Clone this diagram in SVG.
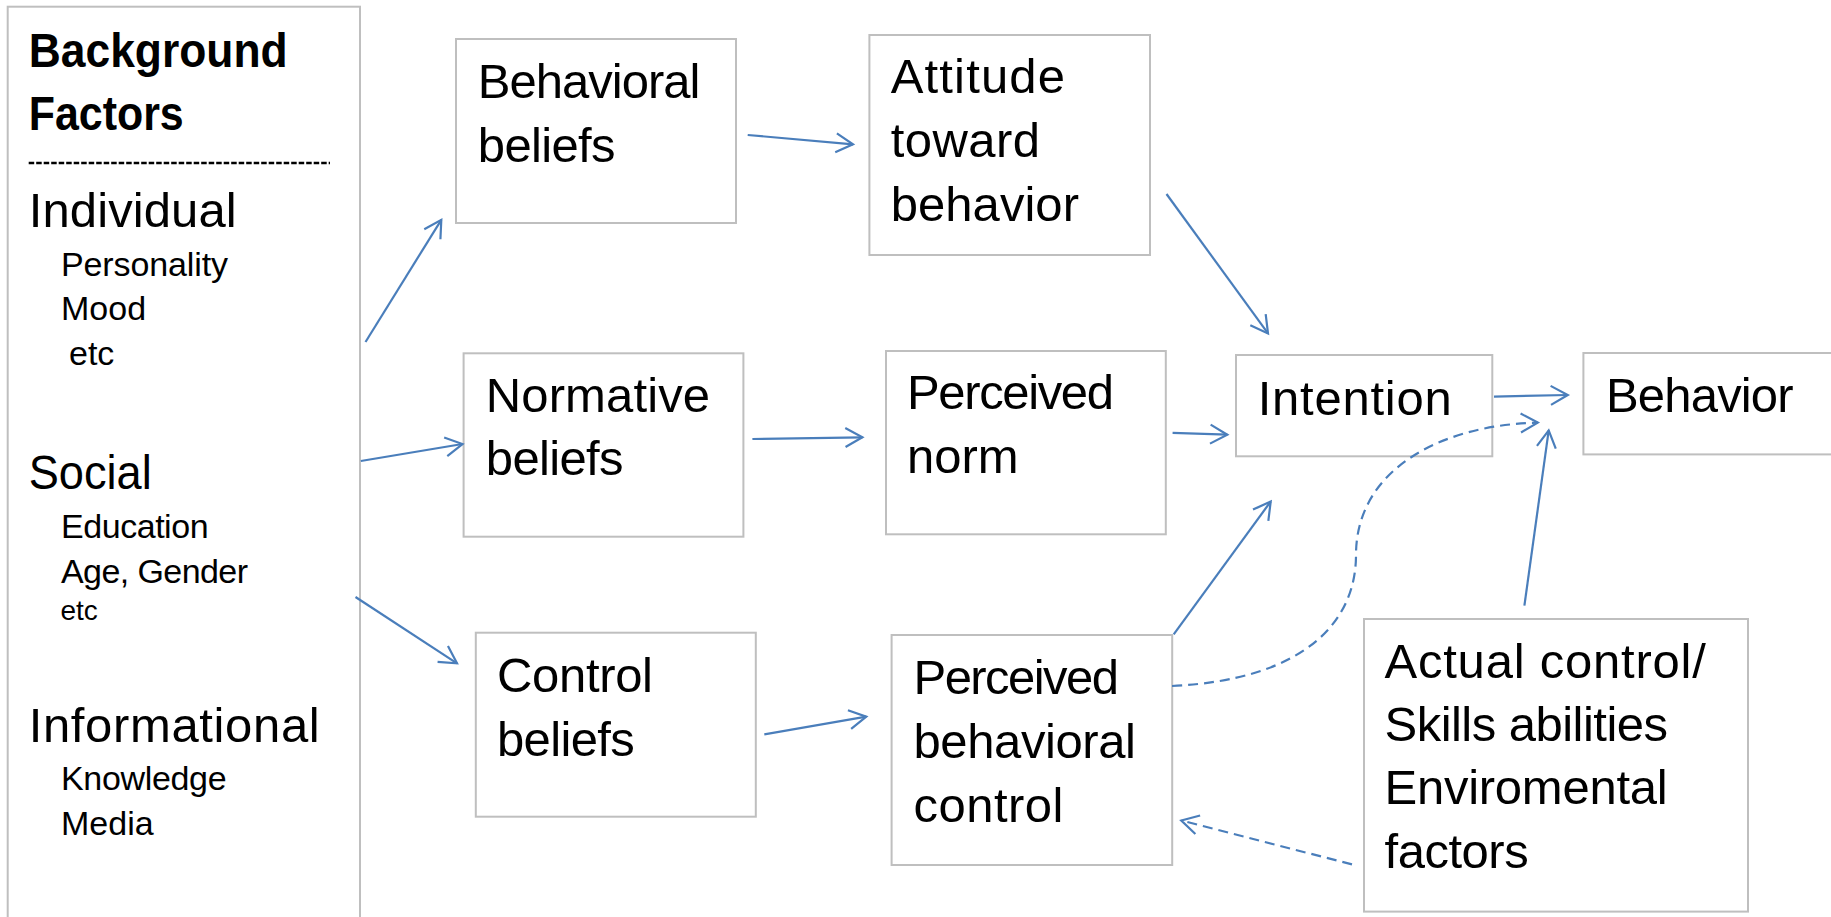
<svg xmlns="http://www.w3.org/2000/svg" width="1831" height="917" viewBox="0 0 1831 917">
<style>
.box{fill:#ffffff;stroke:#bfbfbf;stroke-width:2}
.t{font-family:"Liberation Sans",Arial,sans-serif;font-size:49px;fill:#000}
.h{font-family:"Liberation Sans",Arial,sans-serif;font-size:48px;font-weight:bold;fill:#000}
.s{font-family:"Liberation Sans",Arial,sans-serif;font-size:34px;fill:#000}
.xs{font-family:"Liberation Sans",Arial,sans-serif;font-size:28px;fill:#000}
.c{fill:none;stroke:#4a7ebb;stroke-width:2.2;marker-end:url(#ah)}
.d{stroke-dasharray:10 6}
</style>
<defs>
<marker id="ah" markerUnits="userSpaceOnUse" viewBox="-22 -12 26 24" refX="0" refY="0" markerWidth="26" markerHeight="24" orient="auto" overflow="visible">
<path d="M-17,-9.5 L0,0 L-17,9.5" fill="none" stroke="#4a7ebb" stroke-width="2.2" stroke-linejoin="miter"/>
</marker>
</defs>
<rect width="1831" height="917" fill="#ffffff"/>

<g id="background-factors">
<rect class="box" x="7.7" y="6.7" width="352.3" height="930"/>
<text class="h" x="28.7" y="66.7" textLength="259" lengthAdjust="spacingAndGlyphs">Background</text>
<text class="h" x="28.7" y="130" textLength="155" lengthAdjust="spacingAndGlyphs">Factors</text>
<line x1="28.7" y1="163" x2="330" y2="163" stroke="#000" stroke-width="2.6" stroke-dasharray="5.5 2"/>
<text class="t" x="28.7" y="227" textLength="208" lengthAdjust="spacing">Individual</text>
<text class="s" x="61" y="276" textLength="167" lengthAdjust="spacing">Personality</text>
<text class="s" x="61" y="320">Mood</text>
<text class="s" x="69" y="365">etc</text>
<text class="t" x="28.7" y="489" textLength="123" lengthAdjust="spacingAndGlyphs">Social</text>
<text class="s" x="61" y="538" textLength="147.6" lengthAdjust="spacing">Education</text>
<text class="s" x="61" y="583" textLength="187" lengthAdjust="spacing">Age, Gender</text>
<text class="xs" x="60.5" y="620">etc</text>
<text class="t" x="28.7" y="742" textLength="291" lengthAdjust="spacing">Informational</text>
<text class="s" x="61" y="790" textLength="165.6" lengthAdjust="spacing">Knowledge</text>
<text class="s" x="61" y="835">Media</text>
</g>

<g id="behavioral-beliefs">
<rect class="box" x="456" y="39" width="280" height="184"/>
<text class="t" x="477.8" y="98" textLength="222.7" lengthAdjust="spacing">Behavioral</text>
<text class="t" x="477.8" y="162" textLength="137.7" lengthAdjust="spacing">beliefs</text>
</g>

<g id="attitude">
<rect class="box" x="869.4" y="35" width="280.6" height="220"/>
<text class="t" x="890.7" y="93.3" textLength="174.3" lengthAdjust="spacing">Attitude</text>
<text class="t" x="890.7" y="157.3" textLength="149.3" lengthAdjust="spacing">toward</text>
<text class="t" x="890.7" y="221" textLength="188.3" lengthAdjust="spacing">behavior</text>
</g>

<g id="normative-beliefs">
<rect class="box" x="463.6" y="353.3" width="279.8" height="183.4"/>
<text class="t" x="485.8" y="411.7" textLength="224.2" lengthAdjust="spacing">Normative</text>
<text class="t" x="485.8" y="475" textLength="137.7" lengthAdjust="spacing">beliefs</text>
</g>

<g id="perceived-norm">
<rect class="box" x="886" y="351" width="279.8" height="183.3"/>
<text class="t" x="907" y="409.3" textLength="207" lengthAdjust="spacing">Perceived</text>
<text class="t" x="907" y="473.3">norm</text>
</g>

<g id="control-beliefs">
<rect class="box" x="475.8" y="632.7" width="280" height="184"/>
<text class="t" x="497" y="692.3" textLength="156" lengthAdjust="spacing">Control</text>
<text class="t" x="497" y="756" textLength="137.7" lengthAdjust="spacing">beliefs</text>
</g>

<g id="perceived-behavioral-control">
<rect class="box" x="891.6" y="635" width="280.6" height="230"/>
<text class="t" x="913.5" y="694" textLength="205.5" lengthAdjust="spacing">Perceived</text>
<text class="t" x="913.5" y="758.3" textLength="222.5" lengthAdjust="spacing">behavioral</text>
<text class="t" x="913.5" y="821.7" textLength="150" lengthAdjust="spacing">control</text>
</g>

<g id="intention">
<rect class="box" x="1236" y="355" width="256.3" height="101.3"/>
<text class="t" x="1257.7" y="414.7" textLength="194" lengthAdjust="spacing">Intention</text>
</g>

<g id="behavior">
<rect class="box" x="1583.4" y="353" width="260" height="101.4"/>
<text class="t" x="1606" y="412" textLength="187.6" lengthAdjust="spacing">Behavior</text>
</g>

<g id="actual-control">
<rect class="box" x="1364" y="619" width="384" height="292.6"/>
<text class="t" x="1384.5" y="677.9" textLength="321.4" lengthAdjust="spacing">Actual control/</text>
<text class="t" x="1384.5" y="740.7" textLength="283.5" lengthAdjust="spacing">Skills abilities</text>
<text class="t" x="1384.5" y="804" textLength="283.2" lengthAdjust="spacing">Enviromental</text>
<text class="t" x="1384.5" y="867.6" textLength="144.2" lengthAdjust="spacing">factors</text>
</g>

<g id="connectors">
<path class="c" d="M365.5,342 L441.3,219.8"/>
<path class="c" d="M360.8,461 L462.5,444"/>
<path class="c" d="M355.5,597 L457,663.3"/>
<path class="c" d="M747.7,135 L853,144.3"/>
<path class="c" d="M752.4,439 L862.4,437.3"/>
<path class="c" d="M764.3,734.3 L866.3,716.7"/>
<path class="c" d="M1166.5,194 L1268,333.4"/>
<path class="c" d="M1172.6,432.8 L1227.3,434.7"/>
<path class="c" d="M1173.7,634.3 L1270.7,501.5"/>
<path class="c" d="M1494,396.6 L1567.8,395"/>
<path class="c d" d="M1172,686 C1300,680 1356,625 1356,555 C1356,470 1440,425 1537.8,422.6"/>
<path class="c" d="M1524.4,605.6 L1548.7,430.4"/>
<path class="c d" d="M1352,864.4 L1181.3,820.5"/>
</g>
</svg>
